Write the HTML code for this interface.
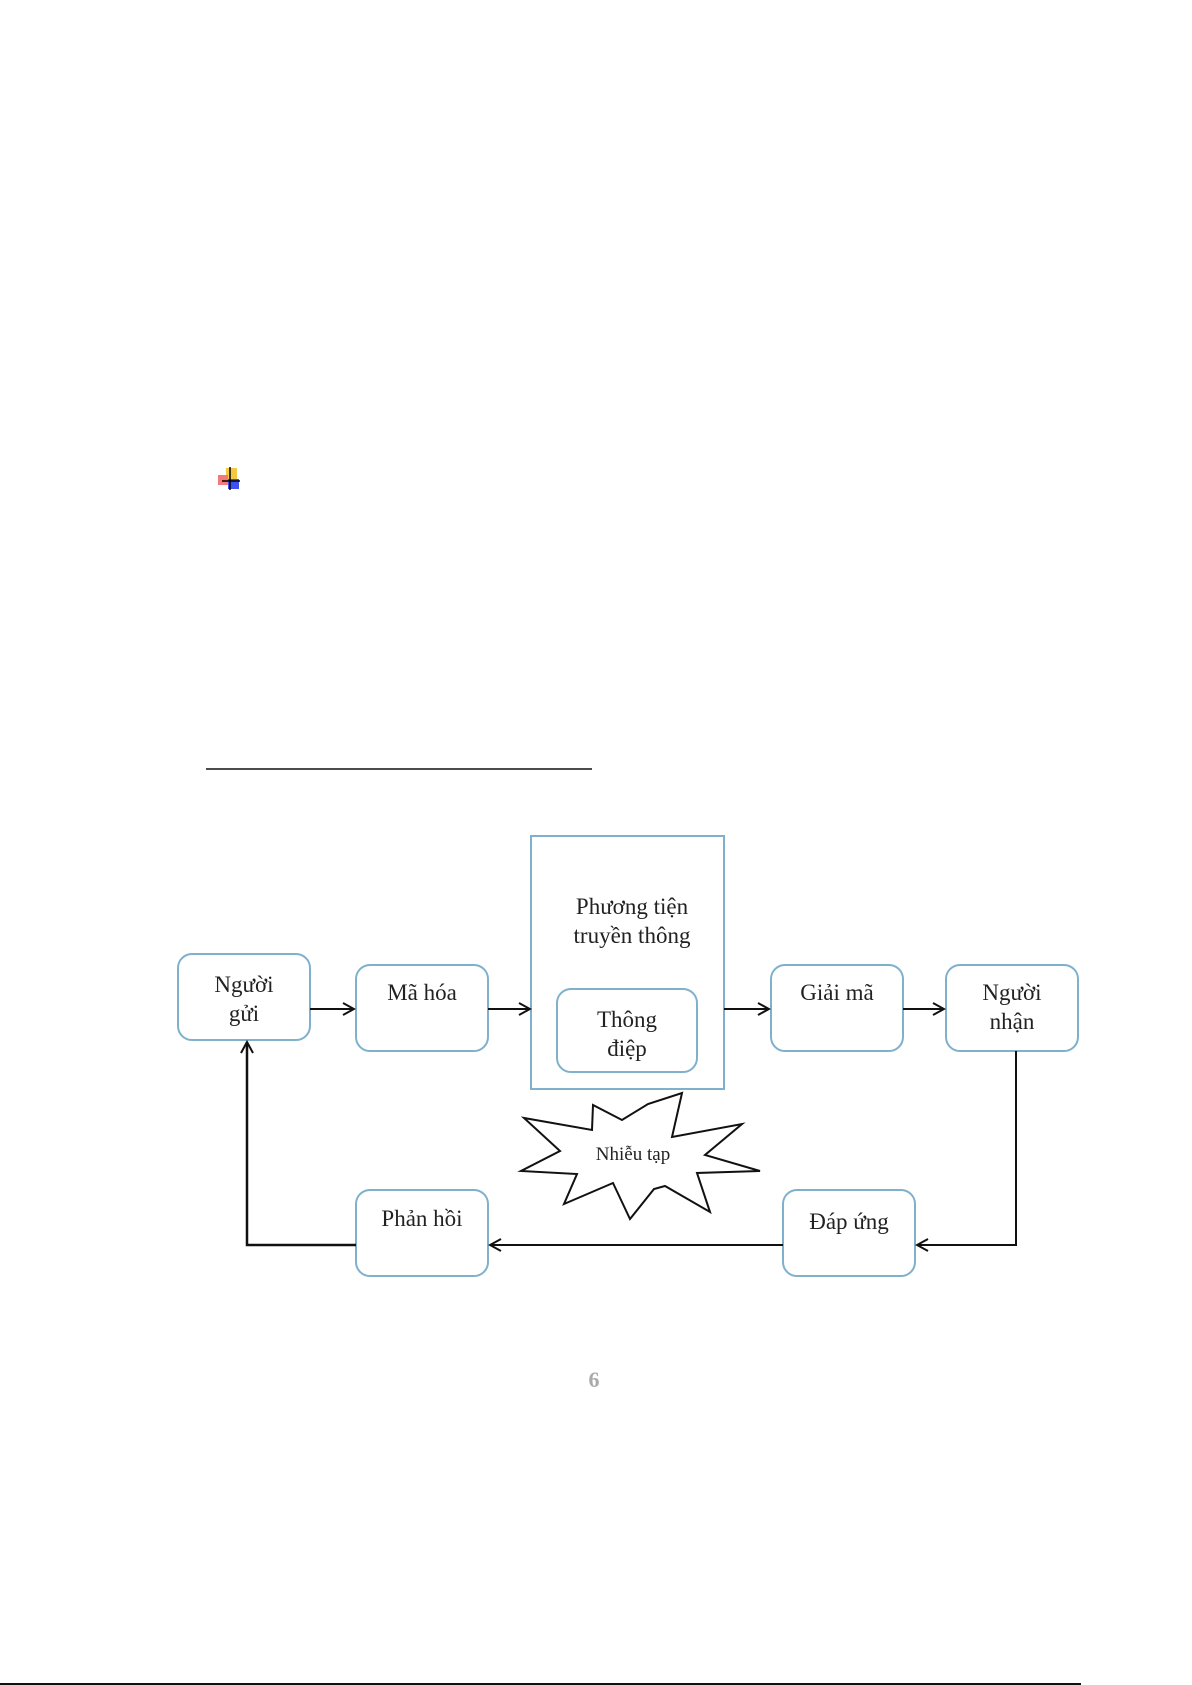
<!DOCTYPE html>
<html><head><meta charset="utf-8"><style>
html,body{margin:0;padding:0;background:#fff;width:1192px;height:1685px;overflow:hidden}
svg{display:block}
text{font-family:"Liberation Serif",serif;fill:#222}
</style></head><body>
<svg width="1192" height="1685" viewBox="0 0 1192 1685">
<defs>
<marker id="a" markerWidth="14" markerHeight="14" refX="12" refY="7" orient="auto" markerUnits="userSpaceOnUse">
<path d="M1,1 L12,7 L1,13" fill="none" stroke="#111" stroke-width="2"/>
</marker>
</defs>
<!-- icon -->
<rect x="226" y="468" width="11" height="11" fill="#f5c842"/>
<rect x="218" y="475" width="10" height="10" fill="#f27a7a"/>
<rect x="228" y="479" width="11" height="10" fill="#4050f0"/>
<line x1="230" y1="467" x2="230" y2="490" stroke="#000" stroke-width="1.5"/>
<line x1="222" y1="481" x2="240" y2="481" stroke="#000" stroke-width="1.5"/>
<!-- underline -->
<line x1="206" y1="769" x2="592" y2="769" stroke="#111" stroke-width="1.5"/>
<!-- big rect -->
<rect x="531" y="836" width="193" height="253" fill="none" stroke="#7fb0cc" stroke-width="2"/>
<text x="632" y="914" font-size="23" text-anchor="middle">Phương tiện</text>
<text x="632" y="943" font-size="23" text-anchor="middle">truyền thông</text>
<g fill="#fff" stroke="#7fb0cc" stroke-width="2">
<rect x="178" y="954" width="132" height="86" rx="14"/>
<rect x="356" y="965" width="132" height="86" rx="14"/>
<rect x="557" y="989" width="140" height="83" rx="14"/>
<rect x="771" y="965" width="132" height="86" rx="14"/>
<rect x="946" y="965" width="132" height="86" rx="14"/>
<rect x="356" y="1190" width="132" height="86" rx="14"/>
<rect x="783" y="1190" width="132" height="86" rx="14"/>
</g>
<g font-size="23" text-anchor="middle">
<text x="244" y="992">Người</text><text x="244" y="1021">gửi</text>
<text x="422" y="1000">Mã hóa</text>
<text x="627" y="1027">Thông</text><text x="627" y="1056">điệp</text>
<text x="837" y="1000">Giải mã</text>
<text x="1012" y="1000">Người</text><text x="1012" y="1029">nhận</text>
<text x="422" y="1226">Phản hồi</text>
<text x="849" y="1229">Đáp ứng</text>
</g>
<g stroke="#111" stroke-width="2" fill="none">
<line x1="310" y1="1009" x2="354" y2="1009" marker-end="url(#a)"/>
<line x1="488" y1="1009" x2="530" y2="1009" marker-end="url(#a)"/>
<line x1="724" y1="1009" x2="769" y2="1009" marker-end="url(#a)"/>
<line x1="903" y1="1009" x2="944" y2="1009" marker-end="url(#a)"/>
<polyline points="1016,1051 1016,1245 917,1245" marker-end="url(#a)"/>
<line x1="783" y1="1245" x2="490" y2="1245" marker-end="url(#a)"/>
<polyline points="356,1245 247,1245 247,1042" marker-end="url(#a)" stroke-width="2.5"/>
</g>
<!-- star -->
<polygon points="682,1093 672,1137 742,1124 705,1155 760,1171 697,1173 710,1212 665,1186 654,1189 630,1219 613,1183 564,1204 577,1174 521,1171 560,1151 524,1118 592,1130 593,1105 622,1120 648,1104" fill="#fff" stroke="#111" stroke-width="2"/>
<text x="633" y="1160" font-size="19" text-anchor="middle">Nhiễu tạp</text>
<text x="594" y="1387" font-size="22" text-anchor="middle" style="fill:#aaa" font-weight="bold">6</text>
<line x1="0" y1="1684" x2="1081" y2="1684" stroke="#111" stroke-width="2"/>
</svg>
</body></html>
